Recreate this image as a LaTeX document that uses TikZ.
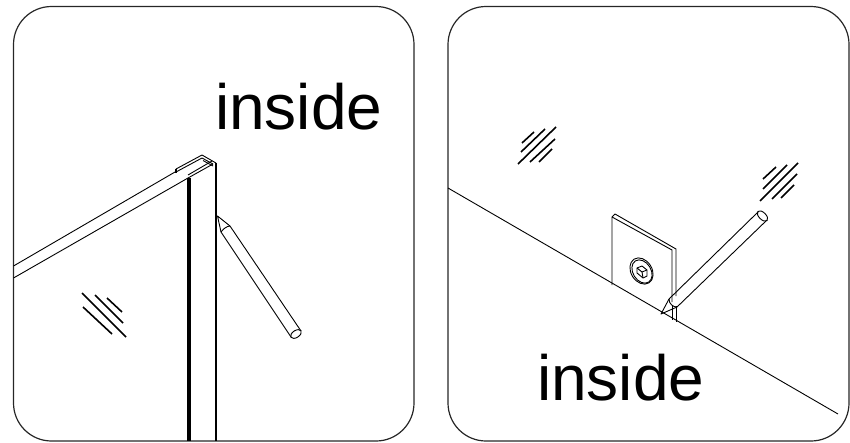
\documentclass[tikz,border=0pt]{standalone}
\usepackage{fontspec}
\setmainfont{Liberation Sans}
\tikzset{
  frameln/.style={draw=black!85,line width=1.2pt,rounded corners=38pt},
  ln/.style={draw=black,line width=0.9pt,line join=round},
  hatchln/.style={draw=black,line width=1.6pt},
  label/.style={inner sep=0pt,anchor=base west,font=\fontsize{64}{64}\selectfont}
}
\begin{document}
\begin{tikzpicture}[x=1pt,y=-1pt]
\useasboundingbox (0,0) rectangle (850,442);
% frames
\draw[frameln] (13.5,6.5) rectangle (414,441);
\draw[frameln] (448,6.5) rectangle (849,441);
% LEFT
\node[label] (insideA) at (214.8,129.5) {inside};
\draw[ln] (13.5,266) -- (175,172);
\draw[ln] (13.5,278) -- (188,178) -- (213,164);
\draw[ln] (188,175) -- (212,161);
\draw[ln] (176,169) -- (202,155) -- (216,163);
\draw[ln] (176,172) -- (202,158) -- (213,164);
\draw[ln] (203,160.5) -- (213,166);
\draw[draw=black,line width=2.5pt] (176,169) -- (176,173);
\draw[draw=black,line width=3.5pt] (189,178) -- (189,441);
\draw[draw=black,line width=2pt] (216,163) -- (216,441);
% left pencil
\draw[ln] (230,226) -- (217.5,216) -- (221,232);
\draw[ln] (230,226) -- (301,331);
\draw[ln] (221,232) -- (291,337);
\draw[ln] (221,232) .. controls (223,229) and (227,226) .. (230,226);
\draw[ln] (296,334) ellipse[x radius=6,y radius=3.5,rotate=33];
% left hatch
\draw[hatchln] (82,293) -- (126,337);
\draw[hatchln] (95,295) -- (123,323);
\draw[hatchln] (107,298) -- (122,312);
\draw[hatchln] (83,307) -- (112,334);
% RIGHT
\node[label] (insideB) at (536.8,400) {inside};
\draw[ln] (448,188) -- (838,414);
% plate
\draw[ln] (612,285) -- (612,217) -- (615,214) -- (676,249) -- (676,296);
\draw[ln] (612,217) -- (672,250) -- (672,302);
\draw[ln] (672,306) -- (672,320);
\draw[ln] (676,306) -- (676,322);
% screw
\draw[ln] (641.5,271) ellipse[x radius=14,y radius=10.5,rotate=-58];
\draw[ln] (642,271.5) ellipse[x radius=12.5,y radius=9,rotate=-58];
\draw[ln] (637,268) -- (642,266) -- (647,270) -- (647,276) -- (643,278) -- (637,273) -- cycle;
\draw[ln] (637,268) -- (642,272) -- (647,270);
\draw[ln] (642,272) -- (643,278);
% right pencil
\draw[ln] (669,299) -- (661,314) -- (677,307);
\draw[ln] (669,299) -- (758,212);
\draw[ln] (677,307) -- (767,220);
\draw[ln] (669,299) .. controls (669,304) and (673,307) .. (677,307);
\draw[ln] (762.5,216) ellipse[x radius=6.5,y radius=3.5,rotate=-45];
% right hatches
\draw[hatchln] (522,143) -- (534,132);
\draw[hatchln] (521,152) -- (545,129);
\draw[hatchln] (518,164) -- (556,127);
\draw[hatchln] (530,162) -- (555,139);
\draw[hatchln] (539,162) -- (552,149);
\draw[hatchln] (763,179) -- (776,167);
\draw[hatchln] (763,189) -- (787,165);
\draw[hatchln] (760,201) -- (798,163);
\draw[hatchln] (772,199) -- (797,174);
\draw[hatchln] (781,198) -- (794,185);
\end{tikzpicture}
\end{document}
